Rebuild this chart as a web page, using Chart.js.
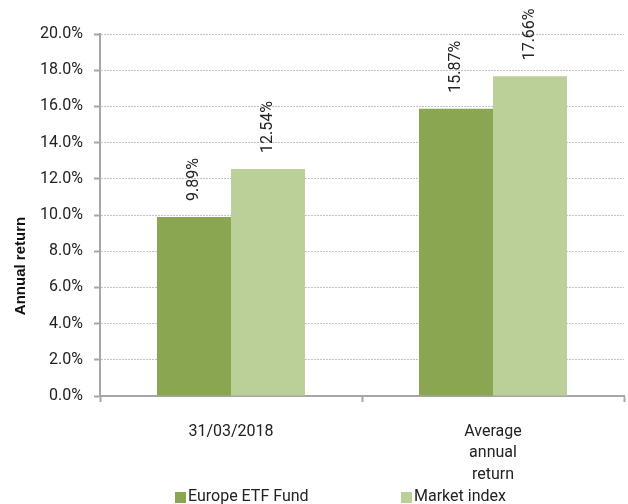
<!DOCTYPE html>
<html>
<head>
<meta charset="utf-8">
<script src="https://cdn.jsdelivr.net/npm/chart.js@4.4.0/dist/chart.umd.min.js"></script>
<style>
html, body { margin: 0; padding: 0; background: #fff; }
</style>
</head>
<body>
<canvas id="grafico" width="628" height="504"></canvas>
<script>
// Categorias do eixo X
const categorias = ["31/03/2018", ["Average", "annual", "return"]];

// Séries
const series = ["Europe ETF Fund", "Market index"];
const fundo = [9.89, 15.87];
const indice = [12.54, 17.66];

// Cores
const cores = ["#8AA650", "#BBCF98"];

const fonte = "Roboto";

// Rótulos de valor girados acima das barras
const rotulos = {
    id: "rotulos",
    afterDatasetsDraw(chart) {
        const ctx = chart.ctx;
        ctx.save();
        ctx.font = "16px " + fonte;
        ctx.fillStyle = "#222";
        ctx.textAlign = "left";
        ctx.textBaseline = "middle";
        chart.data.datasets.forEach((ds, i) => {
            chart.getDatasetMeta(i).data.forEach((bar, j) => {
                ctx.save();
                ctx.translate(bar.x, bar.y - 16);
                ctx.rotate(-Math.PI / 2);
                ctx.fillText(ds.data[j].toFixed(2) + "%", 0, 0);
                ctx.restore();
            });
        });
        ctx.restore();
    }
};

// Título do eixo Y e legenda
const extras = {
    id: "extras",
    afterDraw(chart) {
        const ctx = chart.ctx;
        const area = chart.chartArea;
        ctx.save();
        ctx.font = "bold 15px 'Liberation Sans'";
        ctx.fillStyle = "#111";
        ctx.textAlign = "center";
        ctx.textBaseline = "middle";
        ctx.translate(21, 266);
        ctx.rotate(-Math.PI / 2);
        ctx.fillText("Annual return", 0, 0);
        ctx.restore();

        ctx.save();
        ctx.font = "16px " + fonte;
        ctx.textBaseline = "middle";
        ctx.textAlign = "left";
        const y = 497;
        chart.data.datasets.forEach((ds, i) => {
            const x = area.left + 75 + i * 226;
            ctx.fillStyle = ds.backgroundColor;
            ctx.fillRect(x, y - 5, 11, 11);
            ctx.fillStyle = "#222";
            ctx.fillText(ds.label, x + 13, y);
        });
        ctx.restore();
    }
};

const ctx = document.getElementById("grafico").getContext("2d");

const grafico = new Chart(ctx, {
    type: "bar",
    data: {
        labels: categorias,
        datasets: [
            { label: series[0], data: fundo, backgroundColor: cores[0] },
            { label: series[1], data: indice, backgroundColor: cores[1] }
        ]
    },
    options: {
        responsive: false,
        animation: false,
        categoryPercentage: 0.565,
        barPercentage: 1,
        layout: { padding: { top: 34, right: 4, left: 0, bottom: 0 } },
        plugins: {
            legend: { display: false },
            tooltip: { enabled: false }
        },
        scales: {
            x: {
                afterFit(scale) { scale.height = 108; },
                grid: {
                    display: true,
                    drawOnChartArea: false,
                    drawTicks: true,
                    tickLength: 6,
                    tickColor: "#a6a6a6",
                    tickWidth: 2,
                    offset: true
                },
                border: { color: "#a6a6a6", width: 2 },
                ticks: {
                    color: "#222",
                    padding: 19,
                    font: { family: fonte, size: 16, lineHeight: 1.35 }
                }
            },
            y: {
                min: 0,
                max: 20,
                afterFit(scale) { scale.width = 100; },
                grid: {
                    color: "#c4c4c4",
                    tickColor: "#a6a6a6",
                    tickLength: 6,
                    tickWidth: 2,
                    tickBorderDash: [],
                    lineWidth: 1
                },
                border: { color: "#a6a6a6", width: 2, dash: [2, 1] },
                ticks: {
                    stepSize: 2,
                    color: "#222",
                    padding: 11,
                    font: { family: fonte, size: 16 },
                    callback: (v) => v.toFixed(1) + "%"
                }
            }
        }
    },
    plugins: [rotulos, extras]
});
</script>
</body>
</html>
